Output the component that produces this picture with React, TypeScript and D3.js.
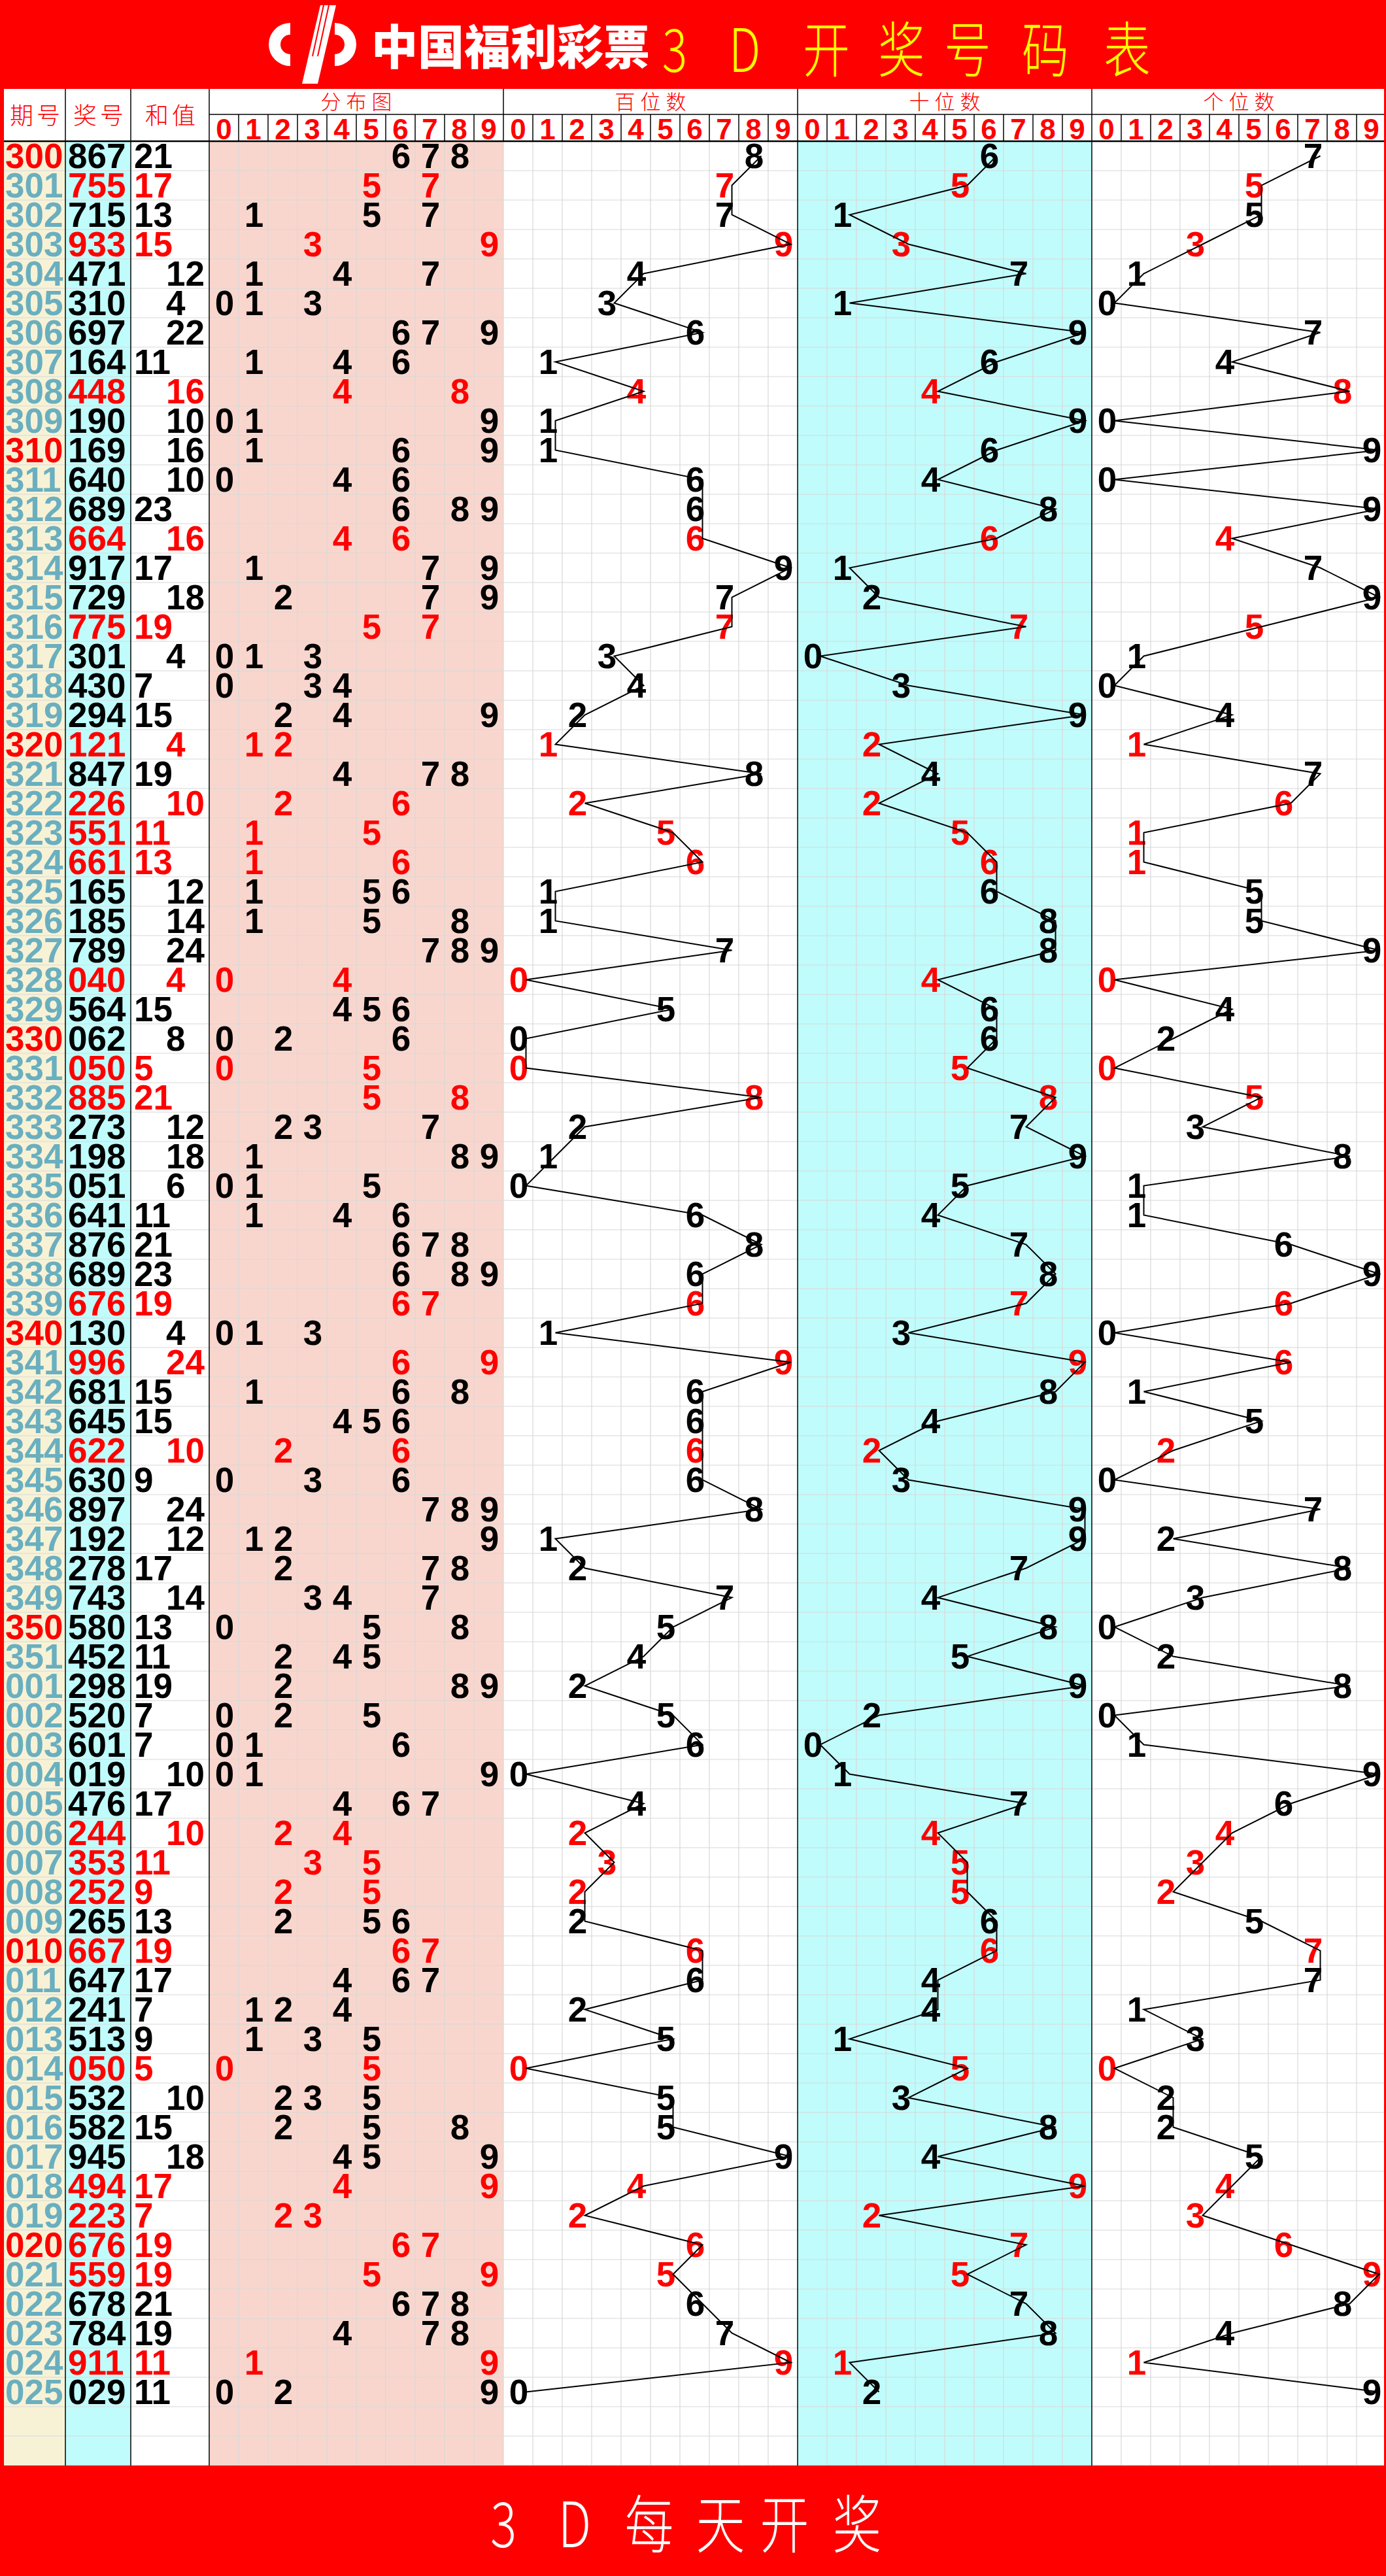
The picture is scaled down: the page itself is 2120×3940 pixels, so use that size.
import React from 'react';
import * as d3 from 'd3';

// 3D draw table: period, winning number, sum
const periods = [
  '300', '301', '302', '303', '304', '305', '306', '307', '308', '309',
  '310', '311', '312', '313', '314', '315', '316', '317', '318', '319',
  '320', '321', '322', '323', '324', '325', '326', '327', '328', '329',
  '330', '331', '332', '333', '334', '335', '336', '337', '338', '339',
  '340', '341', '342', '343', '344', '345', '346', '347', '348', '349',
  '350', '351', '001', '002', '003', '004', '005', '006', '007', '008',
  '009', '010', '011', '012', '013', '014', '015', '016', '017', '018',
  '019', '020', '021', '022', '023', '024', '025',
];

const numbers = [
  '867', '755', '715', '933', '471', '310', '697', '164', '448', '190',
  '169', '640', '689', '664', '917', '729', '775', '301', '430', '294',
  '121', '847', '226', '551', '661', '165', '185', '789', '040', '564',
  '062', '050', '885', '273', '198', '051', '641', '876', '689', '676',
  '130', '996', '681', '645', '622', '630', '897', '192', '278', '743',
  '580', '452', '298', '520', '601', '019', '476', '244', '353', '252',
  '265', '667', '647', '241', '513', '050', '532', '582', '945', '494',
  '223', '676', '559', '678', '784', '911', '029',
];

const sums = [
  21, 17, 13, 15, 12, 4, 22, 11, 16, 10,
  16, 10, 23, 16, 17, 18, 19, 4, 7, 15,
  4, 19, 10, 11, 13, 12, 14, 24, 4, 15,
  8, 5, 21, 12, 18, 6, 11, 21, 23, 19,
  4, 24, 15, 15, 10, 9, 24, 12, 17, 14,
  13, 11, 19, 7, 7, 10, 17, 10, 11, 9,
  13, 19, 17, 7, 9, 5, 10, 15, 18, 17,
  7, 19, 19, 21, 19, 11, 11,
];

const headerDigits = ['0', '1', '2', '3', '4', '5', '6', '7', '8', '9'];
const groupTitles = ['分布图', '百位数', '十位数', '个位数'];
const fixedTitles = ['期号', '奖号', '和值'];
const titleChars = ['3', 'D', '开', '奖', '号', '码', '表'];
const footerChars = ['3', 'D', '每', '天', '开', '奖'];

const W = 2120;
const H = 3940;
const RED = '#ff0000';
const TITLE_H = 136;
const HEAD_MID = 175;
const TOP = 216;
const ROW_H = 45;
const EMPTY_ROWS = 2;
const NUM_FONT = '"Liberation Sans", Arial, sans-serif';
const CJK_FONT = '"Noto Sans CJK SC", sans-serif';

const isPair = (s: string) => new Set(s.split('')).size < 3;

export default function App() {
  const n = numbers.length;
  const rows = d3.range(n + EMPTY_ROWS);
  const y = d3.scaleBand<number>().domain(rows).range([TOP, TOP + rows.length * ROW_H]);
  const bottom = TOP + rows.length * ROW_H;
  const fixedX = d3.scaleOrdinal<number, number>().domain([0, 1, 2, 3]).range([6, 100, 200, 320]);
  const groupX = d3.scaleBand<number>().domain([0, 1, 2, 3]).range([320, 2120]);
  const gw = groupX.bandwidth();
  const digitX = (g: number) =>
    d3.scaleBand<number>().domain(d3.range(10)).range([groupX(g)!, groupX(g)! + gw]);
  const cw = digitX(0).bandwidth();
  const line = d3.line();

  const titleX = d3.scaleOrdinal<number, number>().domain(d3.range(7)).range([1032, 1139, 1264, 1379, 1480, 1599, 1724]);
  const footerX = d3.scaleOrdinal<number, number>().domain(d3.range(6)).range([770, 879, 993, 1102, 1200, 1311]);

  const stem = 'M490,8 L514,8 L486,128 L462,128 Z';
  const cArc = d3.arc()({ innerRadius: 15, outerRadius: 33, startAngle: Math.PI, endAngle: 2 * Math.PI } as any) || '';
  const pArc = d3.arc()({ innerRadius: 15, outerRadius: 33, startAngle: 0, endAngle: Math.PI } as any) || '';

  return (
    <svg width={W} height={H} style={{ display: 'block', background: '#fff' }}>
      <style>{`body{margin:0}`}</style>

      {/* title bar */}
      <rect x={0} y={0} width={W} height={TITLE_H} fill={RED} />
      <g fill="#fff">
        <path d={cArc} transform="translate(444,68)" />
        <path d={pArc} transform="translate(512,68)" />
        <path d={stem} />
        <line x1={495} y1={8} x2={478} y2={86} stroke={RED} strokeWidth={2} />
        <line x1={503} y1={8} x2={486} y2={86} stroke={RED} strokeWidth={2} />
        <text x={568} y={98} fontFamily={CJK_FONT} fontWeight={900} fontSize={72}
          textLength={426} lengthAdjust="spacingAndGlyphs">中国福利彩票</text>
      </g>
      {titleChars.map((c, i) => (
        <text key={`t${i}`} transform={`translate(${titleX(i)},110) scale(0.78,1)`} textAnchor="middle" fill="#ffff00"
          fontFamily={CJK_FONT} fontWeight={300} fontSize={92}>{c}</text>
      ))}

      {/* column backgrounds */}
      <rect x={6} y={TOP} width={94} height={bottom - TOP} fill="#f7f2d6" />
      <rect x={100} y={TOP} width={100} height={bottom - TOP} fill="#c0fcfc" />
      <rect x={groupX(0)} y={TOP} width={gw} height={bottom - TOP} fill="#f9d6cd" />
      <rect x={groupX(2)} y={TOP} width={gw} height={bottom - TOP} fill="#c0fcfc" />

      {/* grid */}
      <g stroke="#d8d8d8" strokeWidth={1.2}>
        {[0, 1, 2, 3].map((g) =>
          d3.range(1, 10).map((d) => (
            <line key={`v${g}${d}`} x1={digitX(g)(d)} x2={digitX(g)(d)} y1={TOP} y2={bottom} />
          ))
        )}
        {rows.slice(1).concat([rows.length]).map((r) => (
          <line key={`h${r}`} x1={6} x2={W} y1={TOP + r * ROW_H} y2={TOP + r * ROW_H} />
        ))}
        <line x1={groupX(1)} x2={groupX(1)} y1={TOP} y2={bottom} />
      </g>

      {/* header */}
      <g stroke="#000" strokeWidth={1.5}>
        <line x1={groupX(0)} x2={W} y1={HEAD_MID} y2={HEAD_MID} />
        <line x1={6} x2={W} y1={TOP} y2={TOP} strokeWidth={2.5} />
        {[0, 1, 2, 3].map((g) =>
          d3.range(1, 10).map((d) => (
            <line key={`hv${g}${d}`} x1={digitX(g)(d)} x2={digitX(g)(d)} y1={HEAD_MID} y2={TOP} />
          ))
        )}
        {[100, 200, 320, 1220, 1670].map((x) => (
          <line key={`b${x}`} x1={x} x2={x} y1={TITLE_H} y2={bottom} />
        ))}
        <line x1={groupX(1)} x2={groupX(1)} y1={TITLE_H} y2={TOP} />
      </g>
      {fixedTitles.map((t, i) => (
        <text key={t} x={(fixedX(i) + fixedX(i + 1)) / 2 + 3} y={190} textAnchor="middle" fill={RED}
          fontFamily={CJK_FONT} fontWeight={300} fontSize={36} letterSpacing={5}>{t}</text>
      ))}
      {groupTitles.map((t, g) => (
        <text key={t} x={groupX(g)! + gw / 2 + 4} y={167} textAnchor="middle" fill={RED}
          fontFamily={CJK_FONT} fontWeight={300} fontSize={31} letterSpacing={8}>{t}</text>
      ))}
      {[0, 1, 2, 3].map((g) =>
        headerDigits.map((d, i) => (
          <text key={`hd${g}${i}`} x={digitX(g)(i)! + cw / 2} y={213} textAnchor="middle" fill={RED}
            fontFamily={NUM_FONT} fontWeight={700} fontSize={44}>{d}</text>
        ))
      )}

      {/* rows */}
      <g fontFamily={NUM_FONT} fontWeight={700} fontSize={53}>
        {numbers.map((num, i) => {
          const base = y(i)! + 41;
          const pair = isPair(num);
          const col = pair ? RED : '#000';
          const p = periods[i];
          const uniq = Array.from(new Set(num.split('').map(Number))).sort((a, b) => a - b);
          return (
            <g key={`r${i}`}>
              <text x={8} y={base} fill={p.endsWith('0') ? RED : '#6aafbf'}>{p}</text>
              <text x={104} y={base} fill={col}>{num}</text>
              <text x={sums[i] % 2 === 0 ? 254 : 205} y={base} fill={col}>{sums[i]}</text>
              {uniq.map((d) => (
                <text key={`u${d}`} x={digitX(0)(d)! + cw / 2 + 1} y={base} textAnchor="middle" fill={col}>{d}</text>
              ))}
              {[1, 2, 3].map((g) => (
                <text key={`p${g}`} x={digitX(g)(+num[g - 1])! + cw / 2 + 1} y={base} textAnchor="middle" fill={col}>
                  {num[g - 1]}
                </text>
              ))}
            </g>
          );
        })}
      </g>

      {/* trend lines */}
      <g fill="none" stroke="#000" strokeWidth={2}>
        {[1, 2, 3].map((g) => (
          <path key={`l${g}`}
            d={line(numbers.map((num, i) => [digitX(g)(+num[g - 1])! + cw / 2 + 12, y(i)! + ROW_H / 2])) || ''} />
        ))}
      </g>

      {/* side borders */}
      <rect x={0} y={TITLE_H} width={6} height={bottom - TITLE_H} fill={RED} />
      <rect x={2117} y={TITLE_H} width={3} height={bottom - TITLE_H} fill={RED} />

      {/* footer */}
      <rect x={0} y={bottom} width={W} height={H - bottom} fill={RED} />
      {footerChars.map((c, i) => (
        <text key={`f${i}`} transform={`translate(${footerX(i)},3896) scale(0.78,1)`} textAnchor="middle" fill="#fff"
          fontFamily={CJK_FONT} fontWeight={300} fontSize={96}>{c}</text>
      ))}
    </svg>
  );
}
